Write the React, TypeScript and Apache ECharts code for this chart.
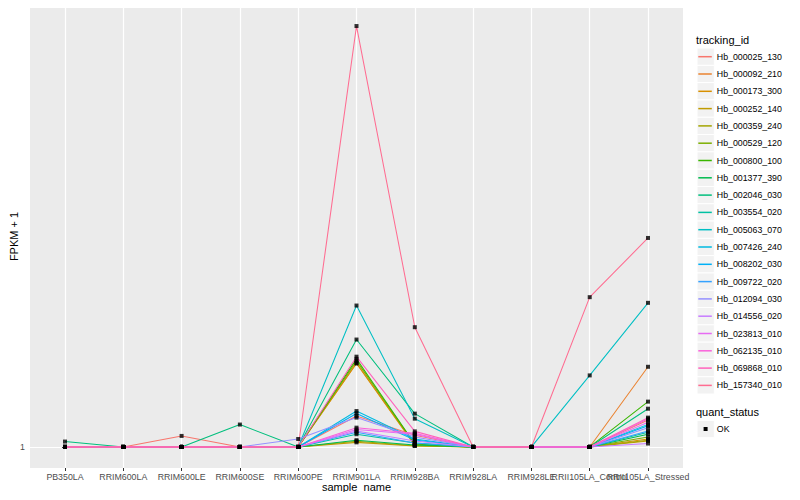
import React, { useEffect, useRef } from "react";
import * as echarts from "echarts";

// ---------- data ----------
const sampleNames = [
  "PB350LA", "RRIM600LA", "RRIM600LE", "RRIM600SE", "RRIM600PE", "RRIM901LA",
  "RRIM928BA", "RRIM928LA", "RRIM928LE", "RRII105LA_Control", "RRII105LA_Stressed",
];

const trackingIds = [
  "Hb_000025_130", "Hb_000092_210", "Hb_000173_300", "Hb_000252_140", "Hb_000359_240",
  "Hb_000529_120", "Hb_000800_100", "Hb_001377_390", "Hb_002046_030", "Hb_003554_020",
  "Hb_005063_070", "Hb_007426_240", "Hb_008202_030", "Hb_009722_020", "Hb_012094_030",
  "Hb_014556_020", "Hb_023813_010", "Hb_062135_010", "Hb_069868_010", "Hb_157340_010",
];

// FPKM + 1 per sample (order of sampleNames)
const hb_000025_130 = [1, 1, 1.056, 1, 1, 1.165, 1.06, 1, 1, 1, 1.143];
const hb_000092_210 = [1, 1, 1, 1, 1, 1.515, 1.01, 1, 1, 1, 1.486];
const hb_000173_300 = [1, 1, 1, 1, 1, 1.51, 1.008, 1, 1, 1, 1.04];
const hb_000252_140 = [1, 1, 1, 1, 1, 1.023, 1.005, 1, 1, 1, 1.03];
const hb_000359_240 = [1, 1, 1, 1, 1, 1.029, 1.006, 1, 1, 1, 1.034];
const hb_000529_120 = [1, 1, 1, 1, 1, 1.53, 1.012, 1, 1, 1, 1.05];
const hb_000800_100 = [1, 1, 1, 1, 1, 1.545, 1.015, 1, 1, 1, 1.251];
const hb_001377_390 = [1, 1, 1, 1, 1, 1.034, 1.01, 1, 1, 1, 1.065];
const hb_002046_030 = [1.027, 1, 1, 1.117, 1, 1.70, 1.179, 1, 1, 1, 1.208];
const hb_003554_020 = [1, 1, 1, 1, 1, 1.065, 1.02, 1, 1, 1, 1.075];
const hb_005063_070 = [1, 1, 1, 1, 1, 2.011, 1.15, 1, 1, 1.424, 2.038];
const hb_007426_240 = [1, 1, 1, 1, 1, 1.194, 1.04, 1, 1, 1, 1.118];
const hb_008202_030 = [1, 1, 1, 1, 1, 1.18, 1.035, 1, 1, 1, 1.11];
const hb_009722_020 = [1, 1, 1, 1, 1, 1.075, 1.02, 1, 1, 1, 1.082];
const hb_012094_030 = [1, 1, 1, 1, 1.04, 1.156, 1.05, 1, 1, 1, 1.10];
const hb_014556_020 = [1, 1, 1, 1, 1, 1.082, 1.03, 1, 1, 1, 1.017];
const hb_023813_010 = [1, 1, 1, 1, 1, 1.09, 1.065, 1, 1, 1, 1.13];
const hb_062135_010 = [1, 1, 1, 1, 1, 1.10, 1.07, 1, 1, 1, 1.15];
const hb_069868_010 = [1, 1, 1, 1, 1, 1.562, 1.08, 1, 1, 1, 1.156];
const hb_157340_010 = [1, 1, 1, 1, 1, 8.0, 1.807, 1, 1, 2.096, 2.808];

const geneValues = [
  hb_000025_130, hb_000092_210, hb_000173_300, hb_000252_140, hb_000359_240,
  hb_000529_120, hb_000800_100, hb_001377_390, hb_002046_030, hb_003554_020,
  hb_005063_070, hb_007426_240, hb_008202_030, hb_009722_020, hb_012094_030,
  hb_014556_020, hb_023813_010, hb_062135_010, hb_069868_010, hb_157340_010,
];

const yTickValues = [1];
const quantStatus = ["OK"];

// ---------- styles ----------
const hueColors = [
  "#F8766D", "#EA8331", "#D89000", "#C09B00", "#A3A500", "#7CAE00", "#39B600",
  "#00BB4E", "#00BF7D", "#00C1A3", "#00BFC4", "#00BAE0", "#00B0F6", "#35A2FF",
  "#9590FF", "#C77CFF", "#E76BF3", "#FA62DB", "#FF62BC", "#FF6C91",
];

const FONT = "Liberation Sans, Arial, Helvetica, sans-serif";

export default function App() {
  const ref = useRef<HTMLDivElement>(null);

  useEffect(() => {
    if (!ref.current) return;
    const chart = echarts.init(ref.current, null, { renderer: "svg" });

    // y range: log scale with 5% expansion like ggplot
    const dataMax = Math.max(...geneValues.flat());
    const dataMin = Math.min(...geneValues.flat());
    const lmax = Math.log10(dataMax);
    const lmin = Math.log10(dataMin);
    const span = lmax - lmin;
    const yMin = Math.pow(10, lmin - 0.05 * span);
    const yMax = Math.pow(10, lmax + 0.05 * span);

    const n = sampleNames.length;
    const xMin = -0.6;
    const xMax = n - 1 + 0.6;
    const allIdx = sampleNames.map((_, i) => i);
    const evenIdx = allIdx.filter((i) => i % 2 === 0);
    const oddIdx = allIdx.filter((i) => i % 2 === 1);

    const lineSeries = trackingIds.map((id, g) => ({
      type: "line",
      name: id,
      data: geneValues[g].map((v, i) => [i, v]),
      symbol: "none",
      lineStyle: { color: hueColors[g], width: 1.05 },
      itemStyle: { color: hueColors[g] },
      emphasis: { disabled: true },
      silent: true,
      z: 2,
    }));

    const pointData: number[][] = [];
    geneValues.forEach((vals) => vals.forEach((v, i) => pointData.push([i, v])));

    const legendTop = 48.05;
    const step = 17.3;
    const keyBoxes = trackingIds.map((_, i) => ({
      type: "rect",
      shape: { x: 697, y: legendTop + i * step, width: step, height: step },
      style: { fill: "#F2F2F2", stroke: "#FFFFFF", lineWidth: 1 },
      z: 0,
    }));

    const labelStyle = {
      fontSize: 8.8,
      color: "#4D4D4D",
      fontFamily: FONT,
      margin: 4,
      hideOverlap: false,
      formatter: (v: number) => sampleNames[Math.round(v)] ?? "",
    };

    chart.setOption({
      animation: false,
      backgroundColor: "#FFFFFF",
      textStyle: { fontFamily: FONT },
      grid: {
        left: 30,
        top: 5,
        width: 653,
        height: 463,
        show: true,
        backgroundColor: "#EBEBEB",
        borderWidth: 0,
        containLabel: false,
        outerBoundsMode: "none",
      },
      xAxis: [
        {
          type: "value",
          position: "bottom",
          min: xMin,
          max: xMax,
          name: "sample_name",
          nameLocation: "middle",
          nameGap: 13,
          nameMoveOverlap: false,
          nameTextStyle: { fontSize: 11, color: "#000000", fontFamily: FONT, verticalAlign: "top" },
          axisLine: { show: false },
          axisTick: {
            show: true,
            length: 3,
            lineStyle: { color: "#333333", width: 1 },
            customValues: allIdx,
          },
          axisLabel: { ...labelStyle, customValues: evenIdx },
          splitLine: { show: true, lineStyle: { color: "#FFFFFF", width: 1.2 } },
        },
        {
          type: "value",
          position: "bottom",
          min: xMin,
          max: xMax,
          axisLine: { show: false },
          axisTick: { show: false },
          axisLabel: { ...labelStyle, customValues: oddIdx },
          splitLine: { show: false },
        },
      ],
      yAxis: {
        type: "log",
        logBase: 10,
        min: yMin,
        max: yMax,
        name: "FPKM + 1",
        nameLocation: "middle",
        nameGap: 11,
        nameMoveOverlap: false,
        nameTextStyle: { fontSize: 11, color: "#000000", fontFamily: FONT },
        axisLine: { show: false },
        axisTick: {
          show: true,
          length: 3,
          lineStyle: { color: "#333333", width: 1 },
          customValues: yTickValues,
        },
        axisLabel: {
          customValues: yTickValues,
          formatter: (v: number) => String(Math.round(v)),
          fontSize: 8.8,
          color: "#4D4D4D",
          fontFamily: FONT,
          margin: 5,
        },
        splitLine: { show: true, lineStyle: { color: "#FFFFFF", width: 1.2 } },
        minorSplitLine: { show: false },
      },
      legend: {
        orient: "vertical",
        left: 698.3,
        top: legendTop,
        padding: 0,
        itemGap: 0,
        itemWidth: 13.5,
        itemHeight: 1.5,
        icon: "rect",
        selectedMode: false,
        data: trackingIds.map((id, g) => ({ name: id, itemStyle: { color: hueColors[g] } })),
        textStyle: { fontSize: 8.8, color: "#000000", fontFamily: FONT, lineHeight: step },
      },
      graphic: [
        ...keyBoxes,
        {
          type: "text",
          x: 696,
          y: 40,
          style: { text: "tracking_id", fontSize: 11, fontFamily: FONT, fill: "#000000", verticalAlign: "middle" },
        },
        {
          type: "text",
          x: 696,
          y: 412.3,
          style: { text: "quant_status", fontSize: 11, fontFamily: FONT, fill: "#000000", verticalAlign: "middle" },
        },
        {
          type: "rect",
          shape: { x: 697, y: 420.4, width: step, height: step },
          style: { fill: "#F2F2F2", stroke: "#FFFFFF", lineWidth: 1 },
        },
        {
          type: "rect",
          shape: { x: 703.6, y: 427, width: 4, height: 4 },
          style: { fill: "#000000" },
        },
        {
          type: "text",
          x: 716.8,
          y: 429,
          style: { text: quantStatus[0], fontSize: 8.8, fontFamily: FONT, fill: "#000000", verticalAlign: "middle" },
        },
      ],
      series: [
        ...lineSeries,
        {
          type: "scatter",
          name: quantStatus[0],
          data: pointData,
          symbol: "rect",
          symbolSize: 4,
          itemStyle: { color: "#000000" },
          emphasis: { disabled: true },
          silent: true,
          z: 3,
        },
      ],
    });

    return () => chart.dispose();
  }, []);

  return <div ref={ref} style={{ width: 800, height: 500, margin: -8 }} />;
}
